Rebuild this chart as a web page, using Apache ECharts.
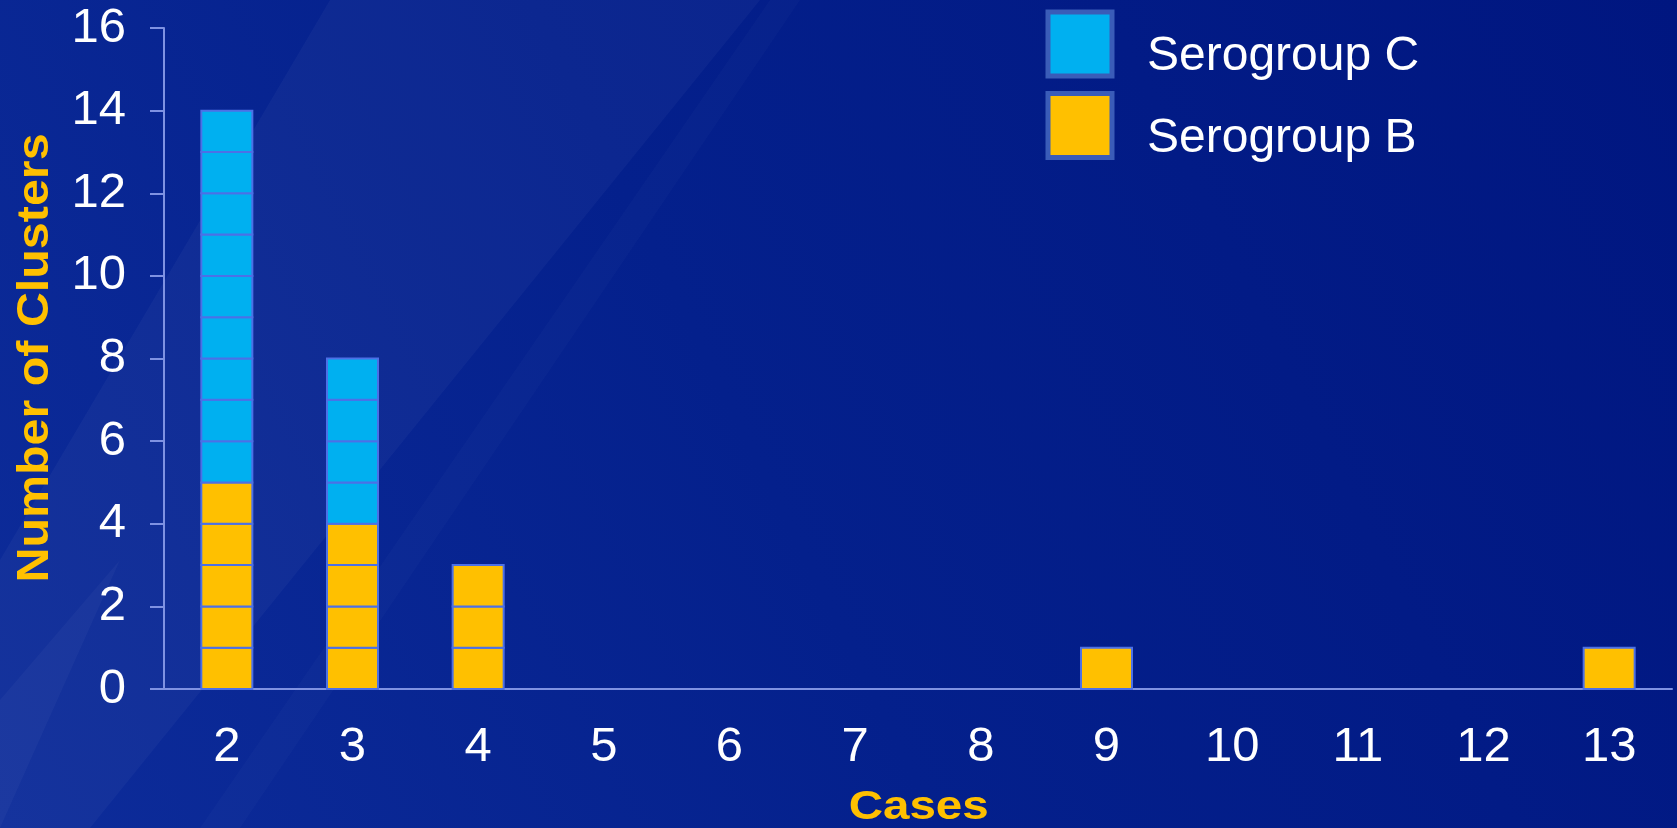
<!DOCTYPE html>
<html>
<head>
<meta charset="utf-8">
<script src="https://cdn.jsdelivr.net/npm/echarts@6/dist/echarts.min.js"></script>
<style>
html,body{margin:0;padding:0;width:1677px;height:828px;overflow:hidden;background:#011a82;}
#c{width:1677px;height:828px;}
</style>
</head>
<body>
<div id="c"></div>
<script>
const cases = ['2','3','4','5','6','7','8','9','10','11','12','13'];
const serogroupB = [5,4,3,0,0,0,0,1,0,0,0,1];
const serogroupC = [9,4,0,0,0,0,0,0,0,0,0,0];
const yTicks = {min:0, max:16, interval:2};
const xTitle = 'Cases';
const yTitle = 'Number of Clusters';

const colB = '#FFC000';
const colC = '#00B0F0';
const edge = '#4C70E6';
const FONT = 'Liberation Sans, Arial, sans-serif';

function buildData(vals, bases){
  return vals.map((v,i)=>[i, bases ? bases[i] : 0, v]);
}

function renderUnits(color){
  return function(params, api){
    const idx = api.value(0), base = api.value(1), cnt = api.value(2);
    const w = api.size([1,0])[0]*0.406;
    const children = [];
    for(let k=0;k<cnt;k++){
      const p0 = api.coord([idx, base+k]);
      const p1 = api.coord([idx, base+k+1]);
      children.push({
        type:'rect',
        shape:{x:p0[0]-w/2, y:p1[1], width:w, height:p0[1]-p1[1]},
        style:{fill:color, stroke:edge, lineWidth:2}
      });
    }
    return {type:'group', children};
  };
}

const chart = echarts.init(document.getElementById('c'));
chart.setOption({
  backgroundColor: {
    type:'linear', x:0, y:1, x2:1, y2:0,
    colorStops:[{offset:0,color:'#0d2c9a'},{offset:0.45,color:'#04208c'},{offset:1,color:'#001680'}]
  },
  graphic:[
    {type:'polygon', silent:true, z:-1, shape:{points:[[0,828],[0,560],[330,0],[760,0],[90,828]]}, style:{fill:'rgba(255,255,255,0.035)'}},
    {type:'polygon', silent:true, z:-1, shape:{points:[[0,828],[0,700],[120,560],[0,828]]}, style:{fill:'rgba(255,255,255,0.03)'}},
    {type:'polygon', silent:true, z:-1, shape:{points:[[200,828],[770,0],[800,0],[240,828]]}, style:{fill:'rgba(255,255,255,0.02)'}},
    {type:'text', silent:true, x:918.7, y:808, scaleX:1.16,
     style:{text:xTitle, fill:'#FFC000', font:'bold 41px '+FONT, align:'center', verticalAlign:'middle'}},
    {type:'text', silent:true, x:36, y:358, rotation:Math.PI/2, scaleX:1.1,
     style:{text:yTitle, fill:'#FFC000', font:'bold 44px '+FONT, align:'center', verticalAlign:'middle'}}
  ],
  animation:false,
  grid:{left:164, right:5, top:28, bottom:139},
  legend:{
    orient:'vertical', left:1045.5, top:9.5, padding:0, itemWidth:64, itemHeight:64, itemGap:10,
    formatter: function(name){ return '{a|' + name + '}'; },
    textStyle:{color:'#ffffff', fontSize:48, fontFamily:FONT, padding:[0,0,0,30],
      rich:{a:{color:'#ffffff', fontSize:48, fontFamily:FONT, padding:[26,0,0,0]}}},
    data:[
      {name:'Serogroup C', icon:'rect', itemStyle:{color:colC, borderColor:'#3a5cb8', borderWidth:5}},
      {name:'Serogroup B', icon:'rect', itemStyle:{color:colB, borderColor:'#3a5cb8', borderWidth:5}}
    ]
  },
  xAxis:{
    type:'category', data:cases,
    axisLine:{lineStyle:{color:'#7f92e2', width:2}},
    axisTick:{length:14, lineStyle:{color:'#7f92e2', width:2}},
    axisLabel:{color:'#ffffff', fontSize:49, lineHeight:49, margin:34, fontFamily:FONT},
    splitLine:{show:false}
  },
  yAxis:{
    type:'value', min:yTicks.min, max:yTicks.max, interval:yTicks.interval,
    axisLine:{show:true, lineStyle:{color:'#7f92e2', width:2}},
    axisTick:{show:true, length:14, lineStyle:{color:'#7f92e2', width:2}},
    axisLabel:{color:'#ffffff', fontSize:49, margin:38, fontFamily:FONT},
    splitLine:{show:false}
  },
  series:[
    {name:'Serogroup B', type:'custom', renderItem:renderUnits(colB), itemStyle:{color:colB},
     encode:{x:0, y:[1,2]}, data:buildData(serogroupB)},
    {name:'Serogroup C', type:'custom', renderItem:renderUnits(colC), itemStyle:{color:colC},
     encode:{x:0, y:[1,2]}, data:buildData(serogroupC, serogroupB)}
  ]
});
</script>
</body>
</html>
